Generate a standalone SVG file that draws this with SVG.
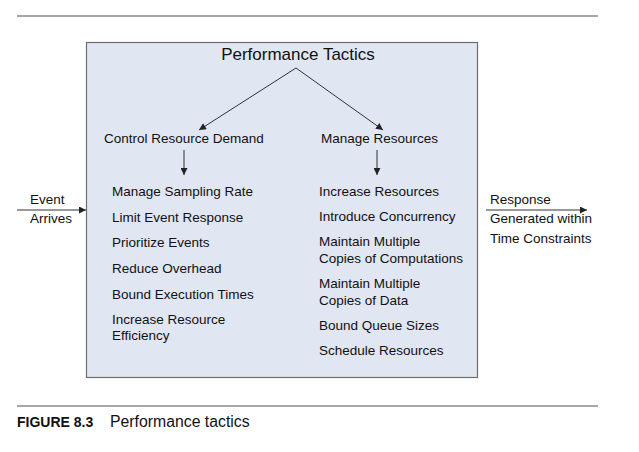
<svg xmlns="http://www.w3.org/2000/svg" width="639" height="452" viewBox="0 0 639 452">
<defs>
<marker id="ah" viewBox="0 0 10 10" refX="10" refY="5" markerWidth="8" markerHeight="7" markerUnits="userSpaceOnUse" orient="auto">
<path d="M0,0 L10,5 L0,10 z" fill="#222"/>
</marker>
<style>
text{font-family:"Liberation Sans",Arial,sans-serif;fill:#111}
.t{font-size:13.5px}
.h{font-size:17px}
.rule{stroke:#8a8a8a;stroke-width:1.5}
.c{stroke:#333;stroke-width:1;fill:none}
</style>
</defs>
<rect width="639" height="452" fill="#fff"/>
<line class="rule" x1="17" y1="16" x2="598" y2="16"/>
<line class="rule" x1="17" y1="406" x2="598" y2="406"/>
<g id="box">
<rect x="86.5" y="42.5" width="391" height="335" fill="#e1e6f3" stroke="#6e6e6e" stroke-width="1.2"/>
</g>
<g id="title"><text class="h" x="298" y="60" text-anchor="middle">Performance Tactics</text></g>
<g id="crd"><text class="t" x="104" y="143">Control Resource Demand</text></g>
<g id="mr"><text class="t" x="321" y="143">Manage Resources</text></g>
<g id="crd-list">
<text class="t" x="112" y="196">Manage Sampling Rate</text>
<text class="t" x="112" y="222">Limit Event Response</text>
<text class="t" x="112" y="247">Prioritize Events</text>
<text class="t" x="112" y="273">Reduce Overhead</text>
<text class="t" x="112" y="299">Bound Execution Times</text>
<text class="t" x="112" y="324">Increase Resource</text>
<text class="t" x="112" y="340">Efficiency</text>
</g>
<g id="mr-list">
<text class="t" x="319" y="196">Increase Resources</text>
<text class="t" x="319" y="221">Introduce Concurrency</text>
<text class="t" x="319" y="246">Maintain Multiple</text>
<text class="t" x="319" y="263">Copies of Computations</text>
<text class="t" x="319" y="288">Maintain Multiple</text>
<text class="t" x="319" y="305">Copies of Data</text>
<text class="t" x="319" y="330">Bound Queue Sizes</text>
<text class="t" x="319" y="355">Schedule Resources</text>
</g>
<g id="event">
<text class="t" x="30" y="204">Event</text>
<text class="t" x="30" y="223">Arrives</text>
</g>
<g id="response">
<text class="t" x="490" y="204">Response</text>
<text class="t" x="490" y="223">Generated within</text>
<text class="t" x="490" y="243">Time Constraints</text>
</g>
<g id="connectors">
<line class="c" x1="296" y1="68" x2="199" y2="130" marker-end="url(#ah)"/>
<line class="c" x1="296" y1="68" x2="383" y2="130" marker-end="url(#ah)"/>
<line class="c" x1="184" y1="150" x2="184" y2="175" marker-end="url(#ah)"/>
<line class="c" x1="377" y1="150" x2="377" y2="175" marker-end="url(#ah)"/>
<line class="c" x1="17" y1="210" x2="86" y2="210" marker-end="url(#ah)"/>
<line class="c" x1="486" y1="210" x2="587" y2="210" marker-end="url(#ah)"/>
</g>
<g id="caption">
<text x="17" y="427" style="font-size:14px;font-weight:bold">FIGURE 8.3</text>
<text x="110" y="427" style="font-size:15.8px">Performance tactics</text>
</g>
</svg>
